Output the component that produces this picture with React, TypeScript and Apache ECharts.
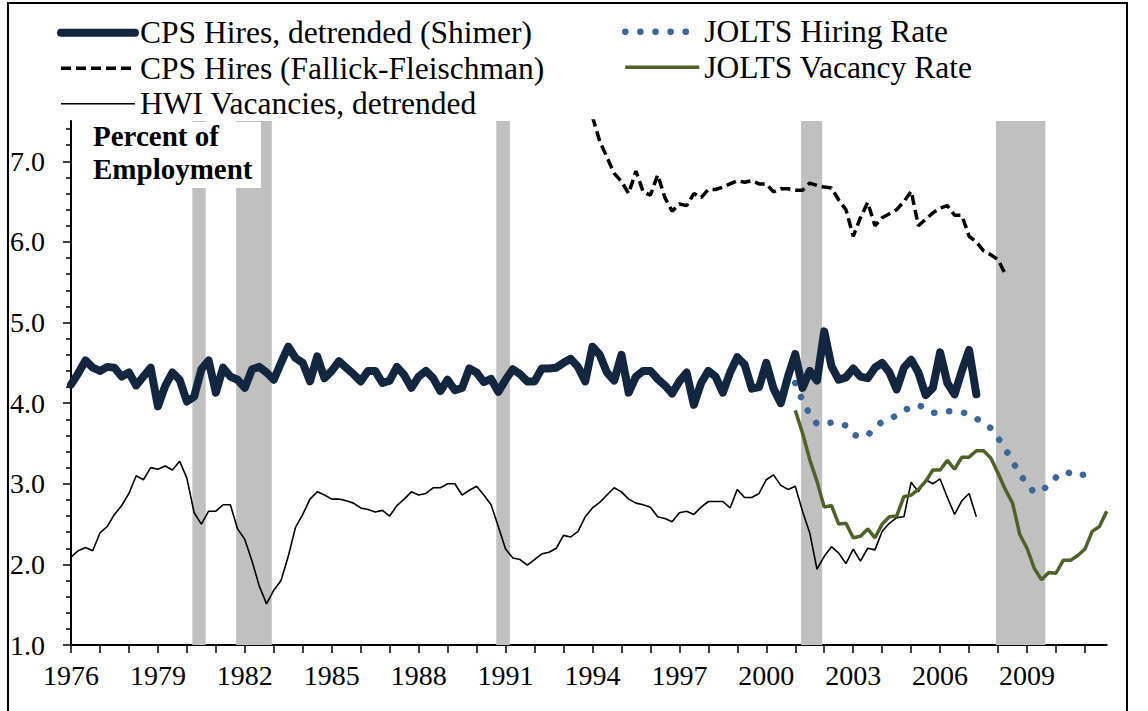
import React, { useEffect, useRef } from "react";
import * as echarts from "echarts";

// Quarterly data, index 0 = 1976Q1
const FIRST_YEAR = 1976;
const LAST_X = 2011.75;

const hwiStart = 0;
const hwiValues = [
  2.09, 2.17, 2.21, 2.17, 2.39, 2.47, 2.62, 2.73, 2.88, 3.10,
  3.05, 3.20, 3.18, 3.22, 3.17, 3.28, 3.07, 2.64, 2.50, 2.66,
  2.66, 2.74, 2.74, 2.44, 2.31, 2.04, 1.73, 1.51, 1.68, 1.80,
  2.10, 2.46, 2.62, 2.81, 2.90, 2.86, 2.81, 2.81, 2.79, 2.76,
  2.70, 2.68, 2.65, 2.67, 2.60, 2.73,
  2.81, 2.90, 2.86, 2.88, 2.95, 2.95, 3.00, 3.00, 2.86, 2.92,
  2.97, 2.86, 2.74, 2.47, 2.19, 2.08, 2.06, 1.99, 2.06, 2.13,
  2.15, 2.20, 2.36, 2.34, 2.41, 2.59, 2.70, 2.77, 2.86, 2.95,
  2.90, 2.81, 2.76, 2.74, 2.71, 2.59, 2.57, 2.53, 2.64, 2.66,
  2.62, 2.71, 2.78, 2.78, 2.78, 2.70, 2.93, 2.83, 2.83, 2.88,
  3.05, 3.11, 2.98, 2.93, 2.97, 2.66, 2.39, 1.94, 2.10, 2.22,
  2.14, 2.01, 2.19, 2.04, 2.20, 2.18, 2.41, 2.51, 2.58, 2.59,
  3.02, 2.90, 3.05, 3.00, 3.06, 2.83, 2.62, 2.79, 2.88, 2.59,
];

const shimerStart = 0;
const shimerValues = [
  4.23, 4.37, 4.53, 4.44, 4.40, 4.45, 4.44, 4.33, 4.38, 4.22,
  4.33, 4.44, 3.96, 4.21, 4.38, 4.29, 4.02, 4.08, 4.42, 4.53,
  4.13, 4.44, 4.33, 4.29, 4.19, 4.42, 4.45, 4.38, 4.29, 4.50,
  4.70, 4.56, 4.50, 4.27, 4.58, 4.31, 4.40, 4.52, 4.44, 4.36,
  4.27, 4.40, 4.40, 4.25, 4.28, 4.45, 4.35, 4.19, 4.33, 4.40,
  4.31, 4.15, 4.29, 4.16, 4.19, 4.43, 4.38, 4.26, 4.30, 4.14,
  4.29, 4.42, 4.36, 4.27, 4.27, 4.43, 4.43, 4.44, 4.50, 4.55,
  4.45, 4.27, 4.70, 4.60, 4.38, 4.28, 4.60, 4.13, 4.33, 4.40,
  4.40, 4.30, 4.22, 4.12, 4.27, 4.38, 3.98, 4.25, 4.40, 4.33,
  4.13, 4.38, 4.57, 4.48, 4.18, 4.20, 4.50, 4.18, 4.00, 4.33,
  4.61, 4.19, 4.40, 4.28, 4.89, 4.46, 4.29, 4.32, 4.43, 4.33,
  4.31, 4.44, 4.50, 4.38, 4.17, 4.44, 4.54, 4.38, 4.10, 4.19,
  4.63, 4.25, 4.11, 4.40, 4.66, 4.11,
];

const ffStart = 72; // 1994Q1
const ffValues = [
  7.55, 7.25, 7.05, 6.85, 6.75, 6.60, 6.88, 6.62, 6.58, 6.83,
  6.55, 6.38, 6.47, 6.45, 6.60, 6.55, 6.65, 6.65, 6.68, 6.72,
  6.76, 6.74, 6.76, 6.72, 6.72, 6.62, 6.66, 6.66, 6.64, 6.64,
  6.73, 6.70, 6.68, 6.67, 6.52, 6.40, 6.07, 6.30, 6.49, 6.20,
  6.30, 6.35, 6.40, 6.50, 6.63, 6.20, 6.28, 6.36, 6.42, 6.45,
  6.33, 6.33, 6.07, 6.00, 5.89, 5.84, 5.78, 5.60,
];

const joltsHireStart = 100; // 2001Q1
const joltsHireValues = [
  4.25, 4.03, 3.86, 3.74, 3.74, 3.76, 3.76, 3.72, 3.61, 3.58,
  3.60, 3.70, 3.77, 3.80, 3.85, 3.91, 3.95, 3.98, 3.93, 3.88,
  3.88, 3.90, 3.90, 3.89, 3.86, 3.81, 3.75, 3.69, 3.57, 3.43,
  3.28, 3.12, 3.00, 2.89, 2.92, 2.98, 3.08, 3.15, 3.13, 3.09,
  3.12, 3.15,
];

const joltsVacStart = 100; // 2001Q1
const joltsVacValues = [
  3.91, 3.63, 3.30, 3.03, 2.71, 2.73, 2.50, 2.51, 2.33, 2.35,
  2.44, 2.33, 2.50, 2.59, 2.60, 2.84, 2.86, 2.93, 3.03, 3.17,
  3.17, 3.29, 3.18, 3.33, 3.33, 3.41, 3.41, 3.32, 3.13, 2.93,
  2.76, 2.37, 2.20, 1.95, 1.81, 1.90, 1.89, 2.05, 2.05, 2.11,
  2.19, 2.41, 2.47, 2.66,
];

const recessions: [number, number][] = [
  [1980.19, 1980.65],
  [1981.7, 1982.93],
  [1990.68, 1991.15],
  [2001.2, 2001.93],
  [2007.93, 2009.63],
];

const xTickYears = [
  1976, 1977, 1978, 1979, 1980, 1981, 1982, 1983, 1984, 1985, 1986, 1987,
  1988, 1989, 1990, 1991, 1992, 1993, 1994, 1995, 1996, 1997, 1998, 1999,
  2000, 2001, 2002, 2003, 2004, 2005, 2006, 2007, 2008, 2009, 2010, 2011,
];
const xLabelYears = [1976, 1979, 1982, 1985, 1988, 1991, 1994, 1997, 2000, 2003, 2006, 2009];
const yLabelValues = [1, 2, 3, 4, 5, 6, 7];
const yMinorTickValues = [
  1.2, 1.4, 1.6, 1.8, 2.2, 2.4, 2.6, 2.8, 3.2, 3.4, 3.6, 3.8, 4.2, 4.4, 4.6, 4.8,
  5.2, 5.4, 5.6, 5.8, 6.2, 6.4, 6.6, 6.8, 7.2, 7.4,
];

const NAMES = {
  shimer: "CPS Hires, detrended (Shimer)",
  ff: "CPS Hires (Fallick-Fleischman)",
  hwi: "HWI Vacancies, detrended",
  hire: "JOLTS Hiring Rate",
  vac: "JOLTS Vacancy Rate",
};

const COLORS = {
  shimer: "#13263f",
  ff: "#000000",
  hwi: "#000000",
  hire: "#3b679c",
  vac: "#4f6228",
};

const STYLES: Record<string, any> = {
  shimer: { color: COLORS.shimer, width: 8, join: "round", cap: "round", type: "solid" },
  ff: { color: COLORS.ff, width: 3.5, type: [10, 5], cap: "butt" },
  hwi: { color: COLORS.hwi, width: 1.6, type: "solid" },
  hire: { color: COLORS.hire, width: 6.5, type: [0.1, 15], cap: "round" },
  vac: { color: COLORS.vac, width: 3.5, type: "solid" },
};

const FONT = "'Liberation Serif', 'Times New Roman', serif";

function toPairs(start: number, values: number[]) {
  return values.map((v, k) => [FIRST_YEAR + (start + k) / 4, v]);
}

function legendItem(key: keyof typeof NAMES) {
  return {
    name: NAMES[key],
    itemStyle: { opacity: 0 },
    lineStyle: { ...STYLES[key], opacity: 1 },
  };
}

export default function App() {
  const ref = useRef<HTMLDivElement>(null);

  useEffect(() => {
    if (!ref.current) return;
    const chart = echarts.init(ref.current, undefined, { renderer: "svg" });

    const legendCommon = {
      orient: "vertical",
      itemWidth: 74,
      itemHeight: 14,
      itemGap: 0,
      padding: 0,
      selectedMode: false,
      textStyle: { fontFamily: FONT, fontSize: 31.5, color: "#000", lineHeight: 35.5 },
    };

    const option: any = {
      animation: false,
      backgroundColor: "#fff",
      grid: {
        left: 71,
        right: 41.3,
        top: 121,
        bottom: 66,
        containLabel: false,
        outerBoundsMode: "none",
      },
      legend: [
        {
          ...legendCommon,
          left: 57,
          top: 15,
          data: [legendItem("shimer"), legendItem("ff"), legendItem("hwi")],
        },
        {
          ...legendCommon,
          left: 622,
          top: 14,
          data: [legendItem("hire"), legendItem("vac")],
        },
      ],
      xAxis: {
        type: "value",
        min: FIRST_YEAR,
        max: LAST_X,
        interval: 1,
        splitLine: { show: false },
        axisLine: { show: true, lineStyle: { color: "#000", width: 2 } },
        axisTick: {
          show: true,
          inside: false,
          length: 8,
          customValues: xTickYears,
          lineStyle: { color: "#000", width: 1.5 },
        },
        axisLabel: {
          customValues: xLabelYears,
          formatter: (v: number) => String(Math.round(v)),
          fontFamily: FONT,
          fontSize: 28,
          color: "#000",
          margin: 16,
        },
      },
      yAxis: [
        {
          type: "value",
          min: 1,
          max: 7.5,
          interval: 1,
          position: "left",
          splitLine: { show: false },
          axisLine: { show: true, lineStyle: { color: "#000", width: 2 } },
          axisTick: {
            show: true,
            inside: false,
            length: 8,
            customValues: yLabelValues,
            lineStyle: { color: "#000", width: 1.5 },
          },
          axisLabel: {
            customValues: yLabelValues,
            formatter: (v: number) => v.toFixed(1),
            fontFamily: FONT,
            fontSize: 28,
            color: "#000",
            margin: 26,
          },
        },
        {
          type: "value",
          min: 1,
          max: 7.5,
          interval: 0.5,
          position: "left",
          splitLine: { show: false },
          axisLine: { show: false },
          axisLabel: { show: false },
          axisTick: {
            show: true,
            inside: false,
            length: 5,
            customValues: yMinorTickValues,
            lineStyle: { color: "#000", width: 1.5 },
          },
        },
      ],
      graphic: [
        {
          type: "rect",
          silent: true,
          z: 100,
          shape: { x: 73, y: 122, width: 188, height: 66 },
          style: { fill: "#fff", stroke: null },
        },
        {
          type: "text",
          silent: true,
          z: 101,
          x: 93,
          y: 119,
          style: {
            text: "Percent of\nEmployment",
            font: `bold 29px ${FONT}`,
            lineHeight: 33,
            fill: "#000",
            textVerticalAlign: "top",
          },
        },
        {
          type: "rect",
          silent: true,
          z: 102,
          shape: { x: 8, y: 3, width: 1119, height: 740 },
          style: { fill: null, stroke: "#000", lineWidth: 2 },
        },
      ],
      series: [
        {
          type: "line",
          name: "recessions",
          data: [],
          z: 1,
          silent: true,
          markArea: {
            silent: true,
            itemStyle: { color: "#c0c0c0" },
            data: recessions.map(([a, b]) => [{ xAxis: a }, { xAxis: b }]),
          },
        },
        {
          type: "line",
          name: NAMES.hwi,
          data: toPairs(hwiStart, hwiValues),
          symbol: "none",
          z: 3,
          lineStyle: STYLES.hwi,
          itemStyle: { color: COLORS.hwi },
        },
        {
          type: "line",
          name: NAMES.vac,
          data: toPairs(joltsVacStart, joltsVacValues),
          symbol: "none",
          z: 4,
          lineStyle: STYLES.vac,
          itemStyle: { color: COLORS.vac },
        },
        {
          type: "line",
          name: NAMES.hire,
          data: toPairs(joltsHireStart, joltsHireValues),
          symbol: "none",
          z: 5,
          lineStyle: STYLES.hire,
          itemStyle: { color: COLORS.hire },
        },
        {
          type: "line",
          name: NAMES.ff,
          data: toPairs(ffStart, ffValues),
          symbol: "none",
          z: 6,
          lineStyle: STYLES.ff,
          itemStyle: { color: COLORS.ff },
        },
        {
          type: "line",
          name: NAMES.shimer,
          data: toPairs(shimerStart, shimerValues),
          symbol: "none",
          z: 7,
          lineStyle: STYLES.shimer,
          itemStyle: { color: COLORS.shimer },
        },
      ],
    };

    chart.setOption(option);
    return () => chart.dispose();
  }, []);

  return (
    <div
      ref={ref}
      style={{ position: "absolute", left: 0, top: 0, width: 1148, height: 711 }}
    />
  );
}
